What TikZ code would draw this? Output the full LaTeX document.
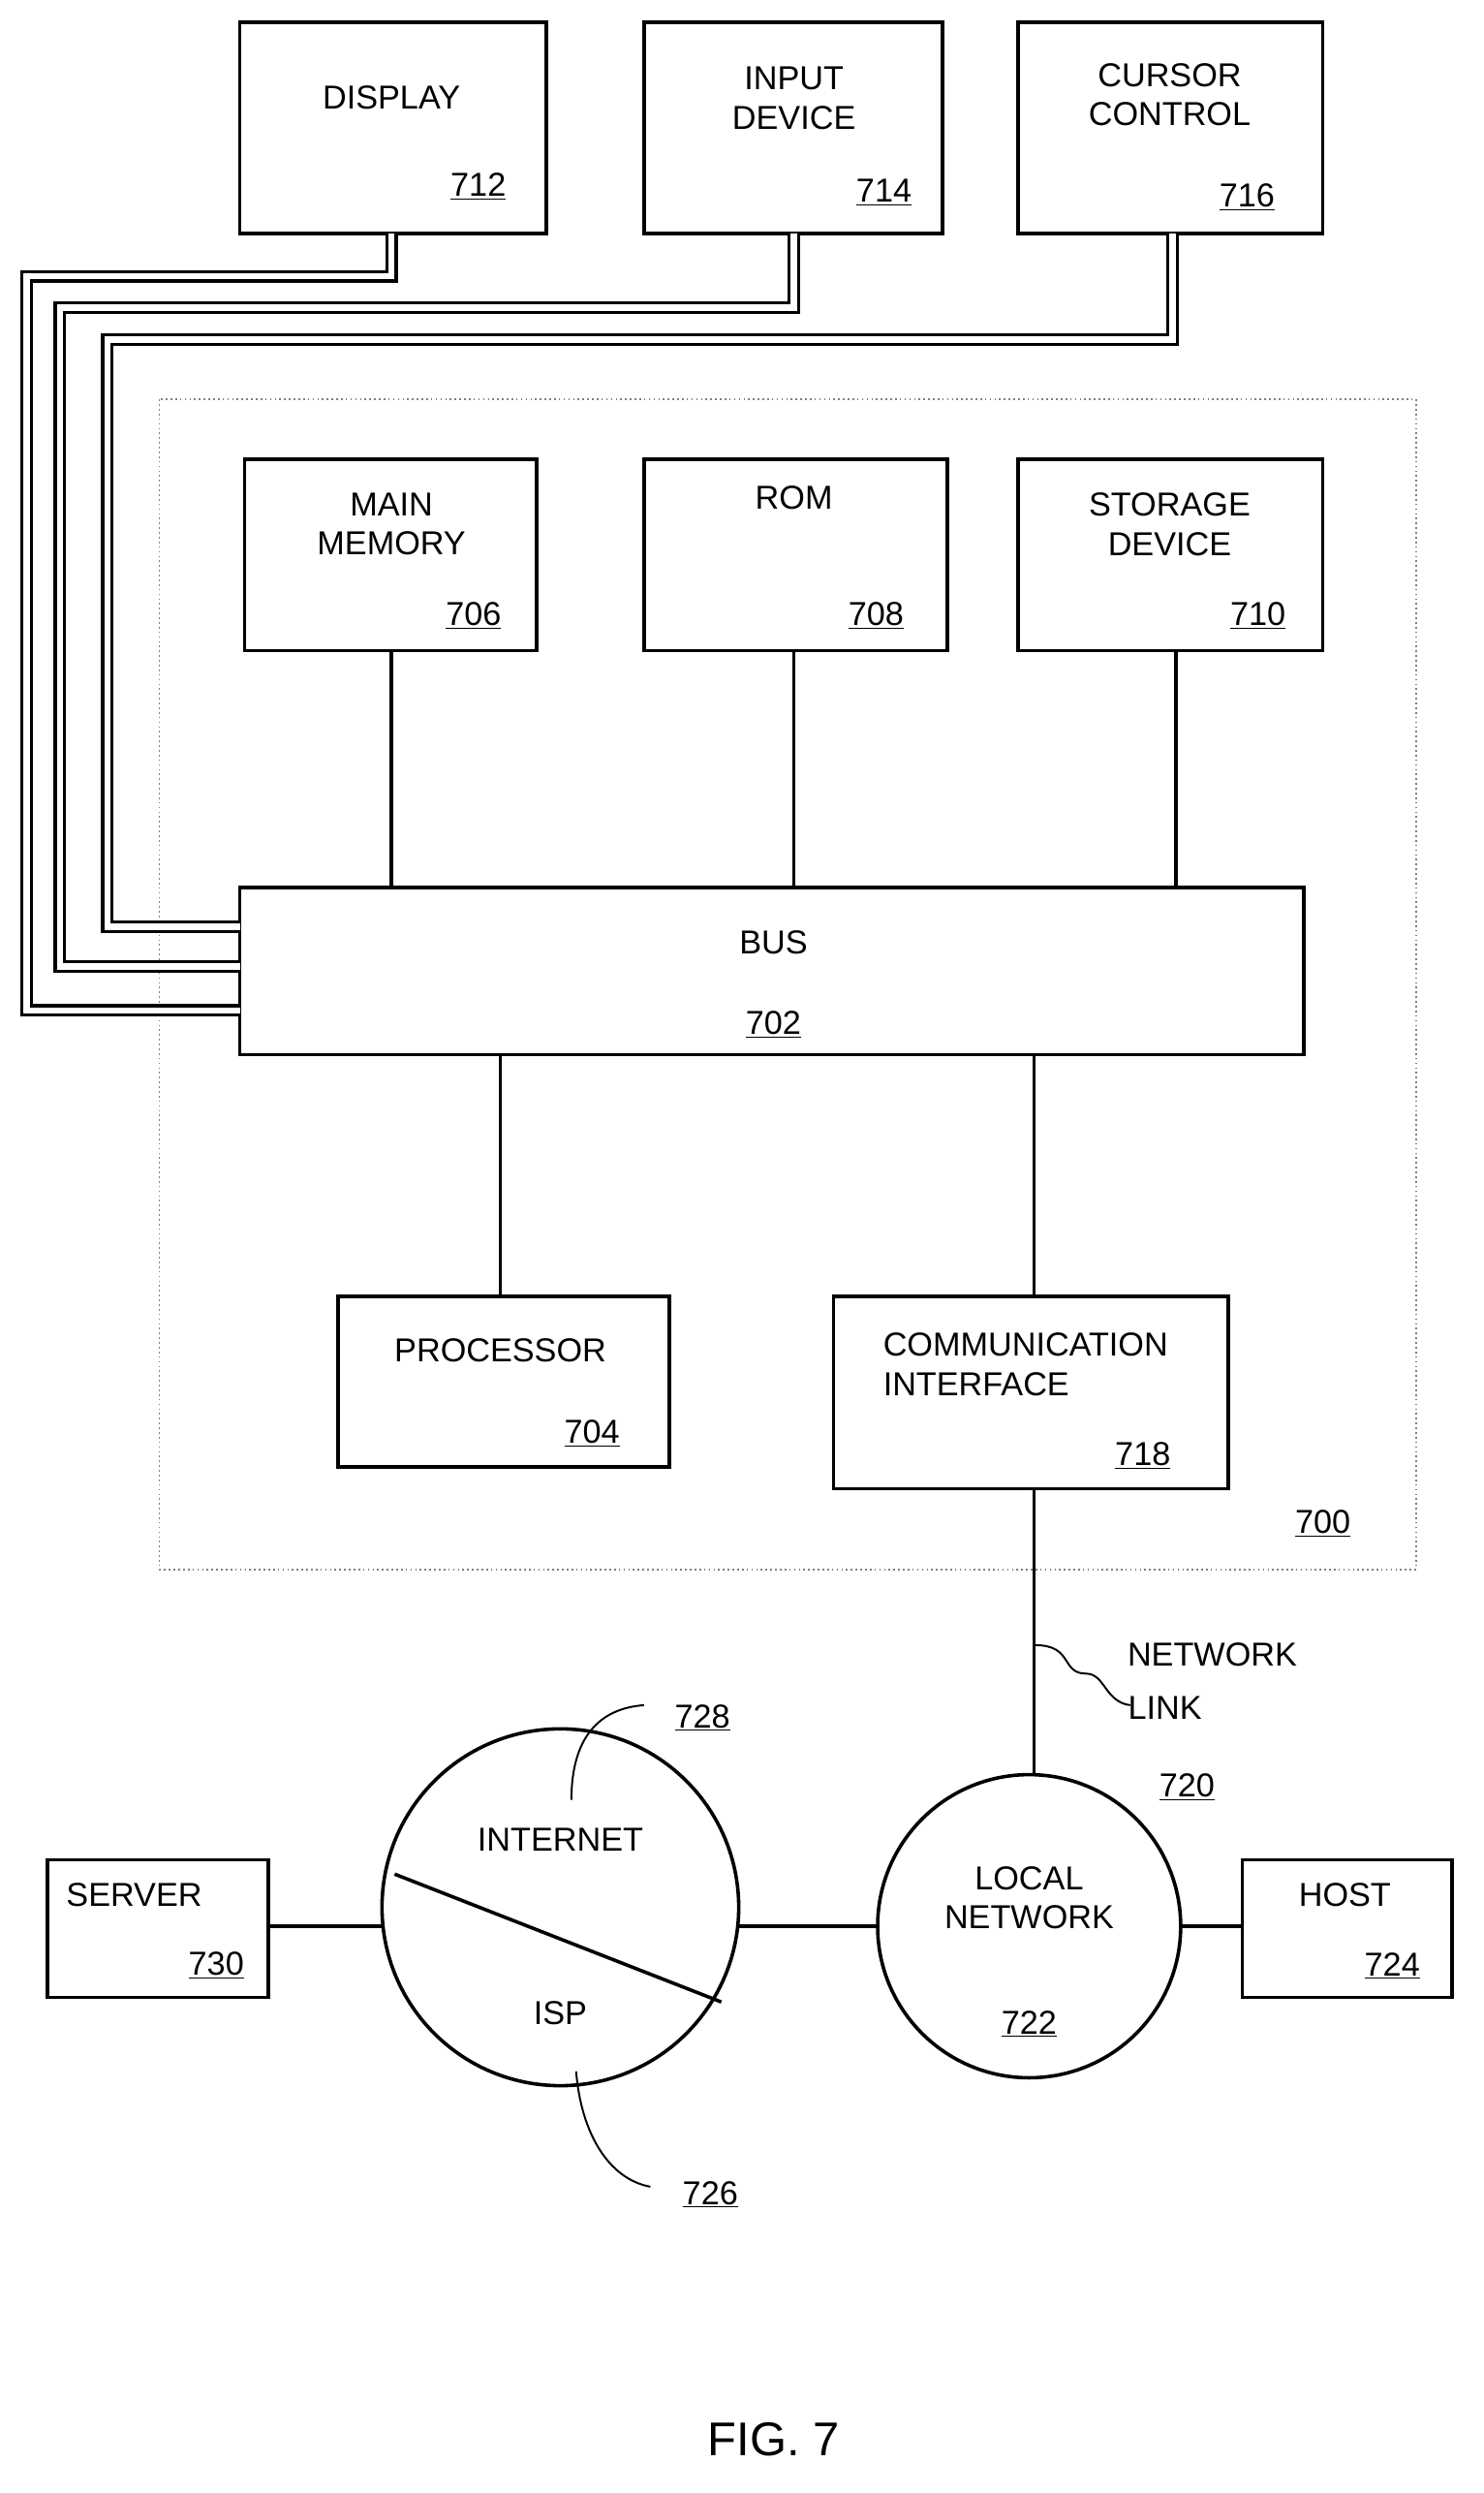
\documentclass[tikz,border=0pt]{standalone}
\usepackage{fontspec}
\setmainfont{Liberation Sans}
\begin{document}
\begin{tikzpicture}[x=1pt,y=-1pt,
 box/.style={draw,line width=2.2pt},
 ln/.style={line width=2.2pt},
 dl/.style={draw=black,double=white,line width=2pt,double distance=4pt},
 t/.style={font=\fontsize{21}{25}\selectfont,align=center},
 num/.style={font=\fontsize{21}{25}\selectfont}]
\useasboundingbox (0,0) rectangle (940,1579);
% top boxes
\draw[box] (152,14) rectangle (346,148); \node[t] (dispt) at (248,62) {DISPLAY}; \node[num] (n712) at (303,118) {\underline{712}};
\draw[box] (408,14) rectangle (597,148); \node[t] (inpt) at (503,62) {INPUT\\DEVICE}; \node[num] (n714) at (560,122) {\underline{714}};
\draw[box] (645,14) rectangle (838,148); \node[t] (curt) at (741,60) {CURSOR\\CONTROL}; \node[num] (n716) at (790,125) {\underline{716}};
% dotted frame
\draw[gray,dotted,line width=1pt] (101,253) rectangle (897,994);
\node[num] (n700) at (838,965) {\underline{700}};
\draw[box] (155,291) rectangle (340,412); \node[t] at (248,332) {MAIN\\MEMORY}; \node[num] at (300,390) {\underline{706}};
\draw[box] (408,291) rectangle (600,412); \node[t] at (503,315) {ROM}; \node[num] at (555,390) {\underline{708}};
\draw[box] (645,291) rectangle (838,412); \node[t] at (741,332) {STORAGE\\DEVICE}; \node[num] at (797,390) {\underline{710}};
\draw[box] (152,562) rectangle (826,668); \node[t] at (490,597) {BUS}; \node[num] at (490,649) {\underline{702}};
\draw[box] (214,821) rectangle (424,929); \node[t] at (317,855) {PROCESSOR}; \node[num] at (375,908) {\underline{704}};
\draw[box] (528,821) rectangle (778,943); \node[t,align=left,anchor=west] at (556,864) {COMMUNICATION\\INTERFACE}; \node[num] at (724,922) {\underline{718}};
\draw[ln] (248,412)--(248,562); \draw[ln] (503,412)--(503,562); \draw[ln] (745,412)--(745,562);
\draw[ln] (317,668)--(317,821); \draw[ln] (655,668)--(655,821);
% double connectors
\draw[dl] (248,148)--(248,175)--(17,175)--(17,640)--(152,640);
\draw[dl] (503,148)--(503,195)--(38,195)--(38,612)--(152,612);
\draw[dl] (743,148)--(743,215)--(68,215)--(68,587)--(152,587);
% network
\draw[ln] (655,943)--(655,1124);
\draw[ln] (652,1220) circle (96);
\draw[ln] (355,1208) circle (113);
\draw[ln] (250,1187)--(457,1268);
\node[t] at (355,1165) {INTERNET}; \node[t] at (355,1275) {ISP};
\node[t] at (652,1202) {LOCAL\\NETWORK}; \node[num] at (652,1282) {\underline{722}};
\draw[box] (30,1178) rectangle (170,1265); \node[t] at (85,1200) {SERVER}; \node[num] at (137,1245) {\underline{730}};
\draw[box] (787,1178) rectangle (920,1265); \node[t] at (852,1200) {HOST}; \node[num] at (882,1245) {\underline{724}};
\draw[ln] (170,1220)--(242,1220); \draw[ln] (468,1220)--(556,1220); \draw[ln] (748,1220)--(787,1220);
\node[num] at (445,1088) {\underline{728}};
\draw[line width=1.2pt] (362,1140) .. controls (362,1100) and (380,1082) .. (408,1080);
\node[num] at (450,1390) {\underline{726}};
\draw[line width=1.2pt] (365,1312) .. controls (368,1350) and (385,1380) .. (412,1385);
\node[num] at (752,1132) {\underline{720}};
\node[t] at (768,1048) {NETWORK}; \node[t] at (738,1082) {LINK};
\draw[line width=1.2pt] (656,1042) .. controls (680,1042) and (672,1060) .. (688,1060) .. controls (700,1060) and (700,1078) .. (716,1080);
\node[font=\fontsize{30}{34}\selectfont] at (490,1545) {FIG. 7};
\end{tikzpicture}
\end{document}
